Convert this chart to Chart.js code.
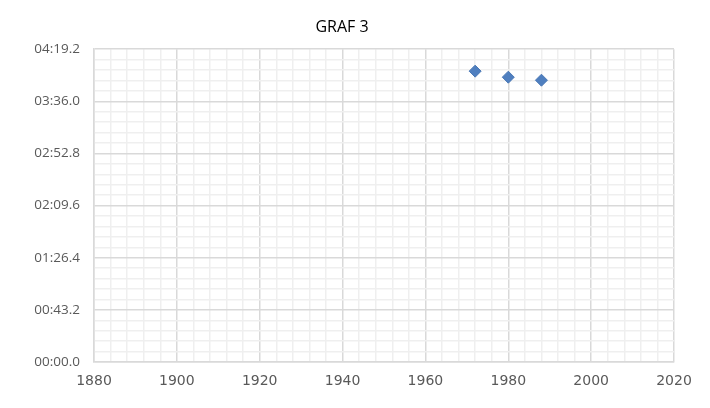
<!DOCTYPE html>
<html>
<head>
<meta charset="utf-8">
<script src="https://cdn.jsdelivr.net/npm/chart.js@4"></script>
<style>
  html, body { margin: 0; padding: 0; background: #fff; }
  #wrap { width: 710px; height: 408px; }
</style>
</head>
<body>
<div id="wrap"><canvas id="graf"></canvas></div>
<script>
// years and times (seconds)
const years = [1972, 1980, 1988];
const times = [241.0, 236.0, 233.5];

const xMin = 1880, xMax = 2020, xMajor = 20, xMinor = 4;
const yMin = 0, yMax = 259.2, yMajor = 43.2, yMinor = 8.64;

function fmtTime(s) {
  const m = Math.floor(s / 60 + 1e-9);
  const rest = s - m * 60;
  const mm = String(m).padStart(2, '0');
  const ss = rest.toFixed(1).padStart(4, '0');
  return mm + ':' + ss;
}

const isMajorX = v => Math.abs(((v - xMin) / xMajor) - Math.round((v - xMin) / xMajor)) < 1e-6;
const isMajorY = v => Math.abs((v / yMajor) - Math.round(v / yMajor)) < 1e-6;

const ctx = document.getElementById('graf').getContext('2d');
new Chart(ctx, {
  type: 'scatter',
  data: {
    datasets: [{
      label: 'GRAF 3',
      data: years.map((y, i) => ({ x: y, y: times[i] })),
      pointStyle: 'rectRot',
      pointRadius: 6,
      pointHoverRadius: 6,
      backgroundColor: '#4f7fbf',
      borderColor: '#4a78b5',
      borderWidth: 1
    }]
  },
  options: {
    responsive: true,
    maintainAspectRatio: false,
    animation: false,
    layout: { padding: { left: 0, right: 26, top: 0, bottom: 0 } },
    plugins: {
      legend: { display: false },
      tooltip: { enabled: false },
      title: {
        display: true,
        text: 'GRAF 3',
        color: '#000',
        font: { family: 'Open Sans', size: 16, weight: 'normal' },
        padding: { top: 18, bottom: 12 }
      }
    },
    scales: {
      x: {
        type: 'linear',
        min: xMin, max: xMax,
        afterFit: s => { s.height = 46; },
        ticks: {
          stepSize: xMinor,
          autoSkip: false,
          maxRotation: 0,
          padding: 11,
          color: '#595959',
          font: { family: 'DejaVu Sans', size: 14 },
          callback: v => isMajorX(v) ? String(v) : ''
        },
        grid: {
          drawTicks: false,
          color: c => isMajorX(c.tick.value) ? '#d9d9d9' : '#efefef',
          lineWidth: 1.5
        },
        border: { color: '#d9d9d9', width: 1.5 }
      },
      y: {
        min: yMin, max: yMax,
        afterFit: s => { s.width = 94; },
        afterBuildTicks: s => {
          const t = [];
          for (let i = 0; i <= 30; i++) t.push({ value: +(i * yMinor).toFixed(3) });
          s.ticks = t;
        },
        ticks: {
          autoSkip: false,
          padding: 14,
          color: '#595959',
          font: { family: 'Open Sans', size: 13.5 },
          callback: v => isMajorY(v) ? fmtTime(v) : ''
        },
        grid: {
          drawTicks: false,
          color: c => isMajorY(c.tick.value) ? '#d9d9d9' : '#efefef',
          lineWidth: 1.5
        },
        border: { color: '#d9d9d9', width: 1.5 }
      },
      // empty right axis only keeps the gap at the right edge
      yRight: {
        position: 'right',
        display: true,
        min: yMin, max: yMax,
        afterFit: s => { s.width = 10; },
        grid: { display: false, drawTicks: false },
        border: { display: false },
        ticks: { display: false }
      }
    }
  }
});
</script>
</body>
</html>
